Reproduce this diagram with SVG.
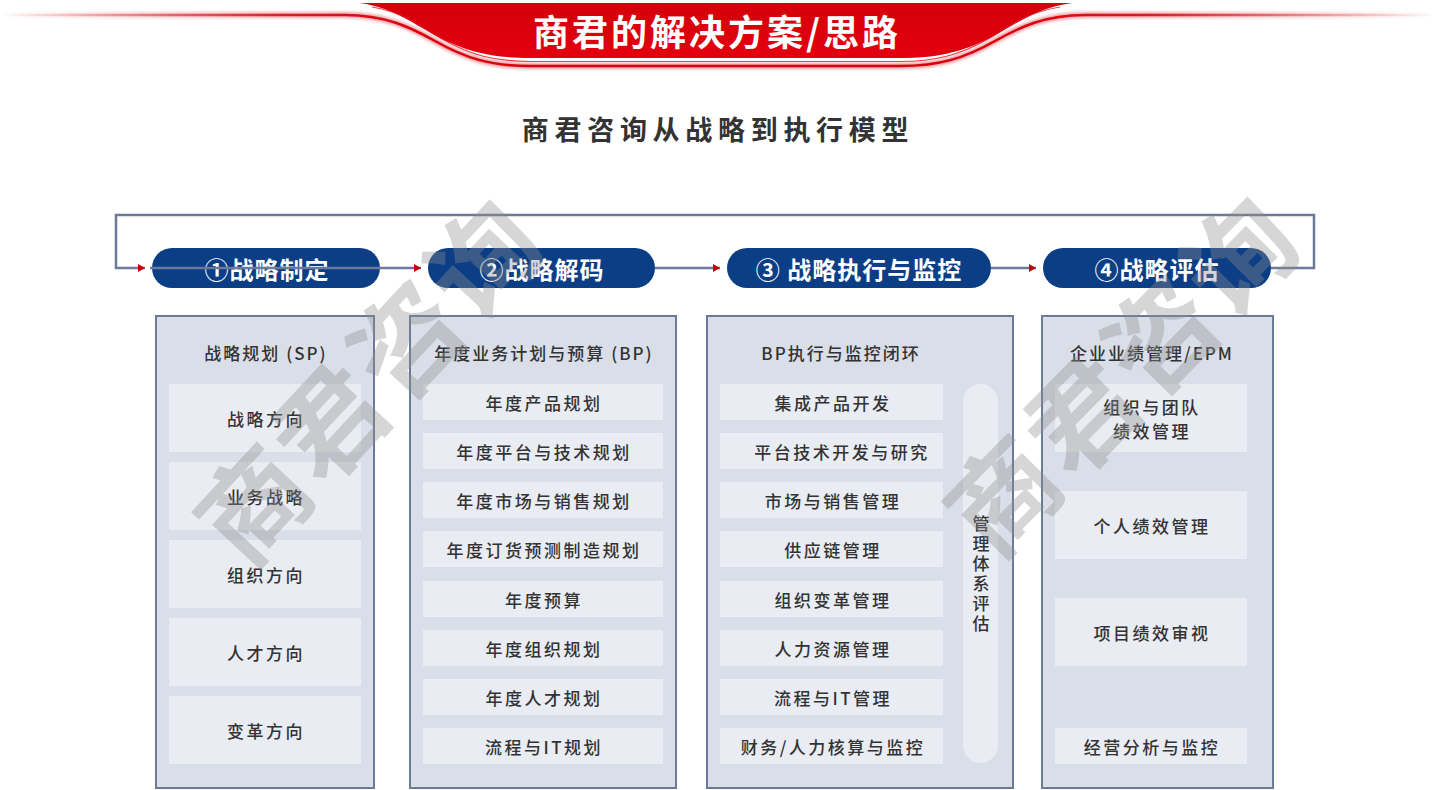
<svg xmlns="http://www.w3.org/2000/svg" width="1435" height="790" viewBox="0 0 1435 790">
<defs>
<linearGradient id="fade" gradientUnits="userSpaceOnUse" x1="0" y1="0" x2="1435" y2="0">
<stop offset="0" stop-color="#d9000c" stop-opacity="0"/>
<stop offset="0.2" stop-color="#d9000c" stop-opacity="0.85"/>
<stop offset="0.3" stop-color="#d9000c"/>
<stop offset="0.7" stop-color="#d9000c"/>
<stop offset="0.8" stop-color="#d9000c" stop-opacity="0.85"/>
<stop offset="1" stop-color="#d9000c" stop-opacity="0"/>
</linearGradient>
<linearGradient id="banner" x1="0" y1="0" x2="0" y2="1">
<stop offset="0" stop-color="#d4000a"/>
<stop offset="1" stop-color="#e3000f"/>
</linearGradient>
<marker id="arr" markerWidth="7" markerHeight="8" refX="7" refY="4" orient="auto" markerUnits="userSpaceOnUse">
<path d="M0,0 L7,4 L0,8 Z" fill="#c8000a"/>
</marker>
<filter id="glow" x="-10%" y="-50%" width="120%" height="200%">
<feGaussianBlur stdDeviation="1.5"/>
</filter>
</defs>
<style>
.panel{fill:#d9dee8;stroke:#6b7a99;stroke-width:2}
.cell{fill:#e9ecf2}
.pill{fill:#0c3e86}
.ptxt{font-family:"Noto Sans CJK SC","Noto Sans",sans-serif;font-size:24px;font-weight:700;fill:#ffffff;text-anchor:middle;dominant-baseline:central;letter-spacing:1px}
.t{font-family:"Noto Sans CJK SC","Noto Sans",sans-serif;font-size:17px;font-weight:500;fill:#333333;text-anchor:middle;dominant-baseline:central;letter-spacing:2.5px}
.hd{font-family:"Noto Sans CJK SC","Noto Sans",sans-serif;font-size:17px;font-weight:500;fill:#333333;text-anchor:middle;dominant-baseline:central;letter-spacing:2px}
.vt{font-family:"Noto Sans CJK SC","Noto Sans",sans-serif;font-size:17px;font-weight:500;fill:#333333;text-anchor:middle;writing-mode:vertical-rl;letter-spacing:3px}
.conn{fill:none;stroke:#6b7a99;stroke-width:2.5}
.wm{font-family:"Noto Sans CJK SC",sans-serif;font-size:108px;font-weight:700;fill:#8c8c8c;fill-opacity:0.36;text-anchor:middle;dominant-baseline:central;letter-spacing:4px}
</style>

<g id="header">
<path d="M0,15 H345 C385,15 410,27 435,41 C465,58 490,66 530,66 H900 C940,66 965,58 995,41 C1020,27 1045,15 1085,15 H1435" fill="none" stroke="url(#fade)" stroke-width="6" filter="url(#glow)" opacity="0.4"/>
<path d="M0,15 H345 C385,15 410,27 435,41 C465,58 490,66 530,66 H900 C940,66 965,58 995,41 C1020,27 1045,15 1085,15 H1435" fill="none" stroke="url(#fade)" stroke-width="2.5"/>
<path d="M360,3 H1072 C1035,8 1015,25 990,38 C960,53 935,58 900,58 H530 C495,58 470,53 440,38 C415,25 395,8 360,3 Z" fill="url(#banner)"/>
<path d="M372,7 C405,13 420,26 442,39 C470,55 495,61.5 530,61.5 H900 C935,61.5 960,55 988,39 C1010,26 1025,13 1060,7" fill="none" stroke="#e01520" stroke-width="1.2" opacity="0.8"/>
<text x="717" y="30" font-family="'Noto Sans CJK SC',sans-serif" font-size="36" font-weight="700" fill="#ffffff" text-anchor="middle" dominant-baseline="central" letter-spacing="3">商君的解决方案/思路</text>
</g>

<text id="subtitle" x="718" y="128" font-family="'Noto Sans CJK SC',sans-serif" font-size="27" font-weight="700" fill="#333333" text-anchor="middle" dominant-baseline="central" letter-spacing="5.7">商君咨询从战略到执行模型</text>

<g id="pill1"><rect class="pill" x="152" y="248" width="228" height="40" rx="20"/><text class="ptxt" x="267" y="268">①战略制定</text></g>
<g id="pill2"><rect class="pill" x="428" y="248" width="227" height="40" rx="20"/><text class="ptxt" x="542" y="268">②战略解码</text></g>
<g id="pill3"><rect class="pill" x="727" y="248" width="264" height="40" rx="20"/><text class="ptxt" x="859" y="268">③ 战略执行与监控</text></g>
<g id="pill4"><rect class="pill" x="1043" y="248" width="228" height="40" rx="20"/><text class="ptxt" x="1157" y="268">④战略评估</text></g>

<g id="connectors">
<path class="conn" d="M1271,268 H1314 V215 H116 V268 H145" marker-end="url(#arr)"/>
<path class="conn" d="M150,268 H421" marker-end="url(#arr)"/>
<path class="conn" d="M655,268 H720" marker-end="url(#arr)"/>
<path class="conn" d="M991,268 H1036" marker-end="url(#arr)"/>
</g>

<g id="panel1">
<rect class="panel" x="156" y="316" width="218" height="472"/>
<text class="hd" x="266" y="352">战略规划 (SP)</text>
<rect class="cell" x="169" y="384" width="192" height="68"/><text class="t" x="266" y="418">战略方向</text>
<rect class="cell" x="169" y="462" width="192" height="68"/><text class="t" x="266" y="496">业务战略</text>
<rect class="cell" x="169" y="540" width="192" height="68"/><text class="t" x="266" y="574">组织方向</text>
<rect class="cell" x="169" y="618" width="192" height="68"/><text class="t" x="266" y="652">人才方向</text>
<rect class="cell" x="169" y="696" width="192" height="68"/><text class="t" x="266" y="730">变革方向</text>
</g>

<g id="panel2">
<rect class="panel" x="410" y="316" width="266" height="472"/>
<text class="hd" x="544" y="352">年度业务计划与预算 (BP)</text>
<rect class="cell" x="423" y="384" width="240" height="36"/><text class="t" x="544" y="402">年度产品规划</text>
<rect class="cell" x="423" y="433" width="240" height="36"/><text class="t" x="544" y="451">年度平台与技术规划</text>
<rect class="cell" x="423" y="482" width="240" height="36"/><text class="t" x="544" y="500">年度市场与销售规划</text>
<rect class="cell" x="423" y="531" width="240" height="36"/><text class="t" x="544" y="549">年度订货预测制造规划</text>
<rect class="cell" x="423" y="581" width="240" height="36"/><text class="t" x="544" y="599">年度预算</text>
<rect class="cell" x="423" y="630" width="240" height="36"/><text class="t" x="544" y="648">年度组织规划</text>
<rect class="cell" x="423" y="679" width="240" height="36"/><text class="t" x="544" y="697">年度人才规划</text>
<rect class="cell" x="423" y="728" width="240" height="36"/><text class="t" x="544" y="746">流程与IT规划</text>
</g>

<g id="panel3">
<rect class="panel" x="707" y="316" width="306" height="472"/>
<text class="hd" x="841" y="352">BP执行与监控闭环</text>
<rect class="cell" x="720" y="384" width="223" height="36"/><text class="t" x="833" y="402">集成产品开发</text>
<rect class="cell" x="720" y="433" width="223" height="36"/><text class="t" x="842" y="451">平台技术开发与研究</text>
<rect class="cell" x="720" y="482" width="223" height="36"/><text class="t" x="833" y="500">市场与销售管理</text>
<rect class="cell" x="720" y="531" width="223" height="36"/><text class="t" x="833" y="549">供应链管理</text>
<rect class="cell" x="720" y="581" width="223" height="36"/><text class="t" x="833" y="599">组织变革管理</text>
<rect class="cell" x="720" y="630" width="223" height="36"/><text class="t" x="833" y="648">人力资源管理</text>
<rect class="cell" x="720" y="679" width="223" height="36"/><text class="t" x="833" y="697">流程与IT管理</text>
<rect class="cell" x="720" y="728" width="223" height="36"/><text class="t" x="833" y="746">财务/人力核算与监控</text>
<rect class="cell" x="963" y="384" width="35" height="379" rx="17.5"/>
<text class="vt" x="981" y="575">管理体系评估</text>
</g>

<g id="panel4">
<rect class="panel" x="1042" y="316" width="231" height="472"/>
<text class="hd" x="1152" y="352">企业业绩管理/EPM</text>
<rect class="cell" x="1055" y="384" width="192" height="68"/>
<text class="t" x="1152"><tspan x="1152" y="406">组织与团队</tspan><tspan x="1152" y="430">绩效管理</tspan></text>
<rect class="cell" x="1055" y="491" width="192" height="68"/><text class="t" x="1152" y="525">个人绩效管理</text>
<rect class="cell" x="1055" y="598" width="192" height="68"/><text class="t" x="1152" y="632">项目绩效审视</text>
<rect class="cell" x="1055" y="728" width="192" height="36"/><text class="t" x="1152" y="746">经营分析与监控</text>
</g>

<g id="watermarks">
<text class="wm" transform="translate(365,376) rotate(-47)">商君咨询</text>
<text class="wm" transform="translate(1118,370) rotate(-45.5)">商君咨询</text>
</g>
</svg>
